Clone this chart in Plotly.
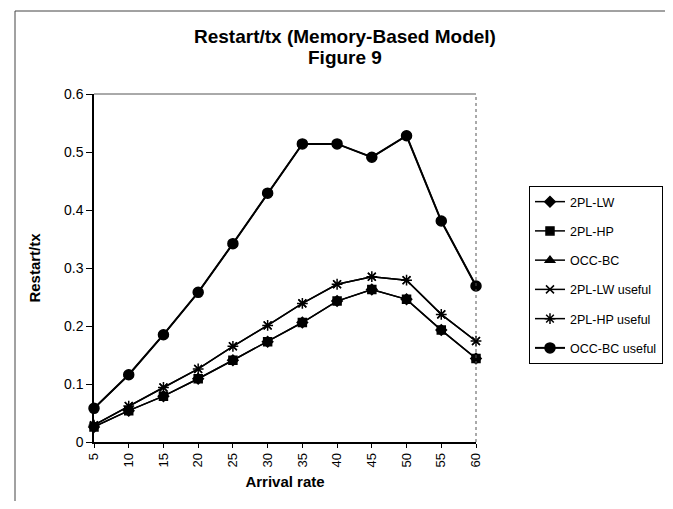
import plotly.graph_objects as go

arrival_rate = [5, 10, 15, 20, 25, 30, 35, 40, 45, 50, 55, 60]

lw_2pl = [0.026, 0.054, 0.079, 0.109, 0.141, 0.173, 0.206, 0.243, 0.263, 0.246, 0.193, 0.144]
hp_2pl = [0.026, 0.054, 0.079, 0.109, 0.141, 0.173, 0.206, 0.243, 0.263, 0.246, 0.193, 0.144]
occ_bc = [0.058, 0.116, 0.185, 0.258, 0.342, 0.429, 0.514, 0.514, 0.491, 0.528, 0.381, 0.269]
lw_2pl_useful = [0.029, 0.062, 0.094, 0.126, 0.165, 0.201, 0.239, 0.272, 0.285, 0.279, 0.220, 0.174]
hp_2pl_useful = [0.029, 0.062, 0.094, 0.126, 0.165, 0.201, 0.239, 0.272, 0.285, 0.279, 0.220, 0.174]
occ_bc_useful = [0.058, 0.116, 0.185, 0.258, 0.342, 0.429, 0.514, 0.514, 0.491, 0.528, 0.381, 0.269]

series_names = ["2PL-LW", "2PL-HP", "OCC-BC", "2PL-LW useful", "2PL-HP useful", "OCC-BC useful"]
series_values = [lw_2pl, hp_2pl, occ_bc, lw_2pl_useful, hp_2pl_useful, occ_bc_useful]
symbols = ["diamond", "square", "triangle-up", "x-thin", "asterisk", "circle"]
sizes = [8, 8, 8, 8, 9, 10]
widths = [1.5, 1.5, 1.5, 1.5, 1.5, 2]

y_ticks = [0, 0.1, 0.2, 0.3, 0.4, 0.5, 0.6]
y_tick_labels = ["0", "0.1", "0.2", "0.3", "0.4", "0.5", "0.6"]

FONT = "Liberation Sans, Arial, sans-serif"

fig = go.Figure()
for name, vals, sym, sz, w in zip(series_names, series_values, symbols, sizes, widths):
    fig.add_trace(go.Scatter(
        x=arrival_rate, y=vals, name=name, mode="lines+markers",
        legendgroup=name,
        line=dict(color="black", width=w),
        marker=dict(symbol=sym, size=sz, color="black",
                    line=dict(color="black", width=1.5)),
        cliponaxis=False,
    ))

fig.update_layout(
    width=657, height=493,
    margin=dict(l=86, r=189, t=86, b=59, autoexpand=False),
    paper_bgcolor="white", plot_bgcolor="white",
    font=dict(family=FONT, size=13, color="black"),
    showlegend=True,
    legend=dict(x=1.4895, y=0.7356, xanchor="right", yanchor="top",
                bordercolor="black", borderwidth=1, bgcolor="white",
                font=dict(size=12.5), tracegroupgap=10,
                traceorder="grouped", itemwidth=30),
    xaxis=dict(range=[5, 60], tickmode="array", tickvals=arrival_rate,
               ticktext=[str(v) for v in arrival_rate], tickangle=-90,
               showgrid=False, zeroline=False, showline=True, linecolor="black",
               linewidth=1.5, ticks="outside", ticklen=4, tickcolor="black",
               tickfont=dict(size=13), automargin=False,
               title=dict(text="<b>Arrival rate</b>", font=dict(size=15), standoff=10)),
    yaxis=dict(range=[0, 0.6], tickmode="array",
               tickvals=y_ticks, ticktext=y_tick_labels,
               showgrid=False, zeroline=False, showline=True, linecolor="black",
               linewidth=1.5, ticks="outside", ticklen=6, tickcolor="black",
               tickfont=dict(size=14), automargin=False,
               title=dict(text="<b>Restart/tx</b>", font=dict(size=15), standoff=20)),
    annotations=[
        dict(text="<b>Restart/tx (Memory-Based Model)</b>", x=0.657, y=1.164,
             xref="paper", yref="paper", showarrow=False, xanchor="center",
             yanchor="middle", font=dict(size=19)),
        dict(text="<b>Figure 9</b>", x=0.657, y=1.106,
             xref="paper", yref="paper", showarrow=False, xanchor="center",
             yanchor="middle", font=dict(size=19)),
    ],
    shapes=[
        dict(type="line", xref="x domain", yref="y domain", x0=0, x1=1, y0=1, y1=1,
             line=dict(color="#555555", width=1)),
        dict(type="line", xref="x domain", yref="y domain", x0=1, x1=1, y0=0, y1=1,
             line=dict(color="#555555", width=1, dash="dot")),
        dict(type="line", xref="paper", yref="paper", x0=-0.2068, x1=-0.2068, y0=-0.224, y1=1.2385,
             line=dict(color="#444444", width=1)),
        dict(type="line", xref="paper", yref="paper", x0=-0.2068, x1=1.6, y0=1.2385, y1=1.2385,
             line=dict(color="#444444", width=1)),
    ],
)

fig.write_html("out.html")
